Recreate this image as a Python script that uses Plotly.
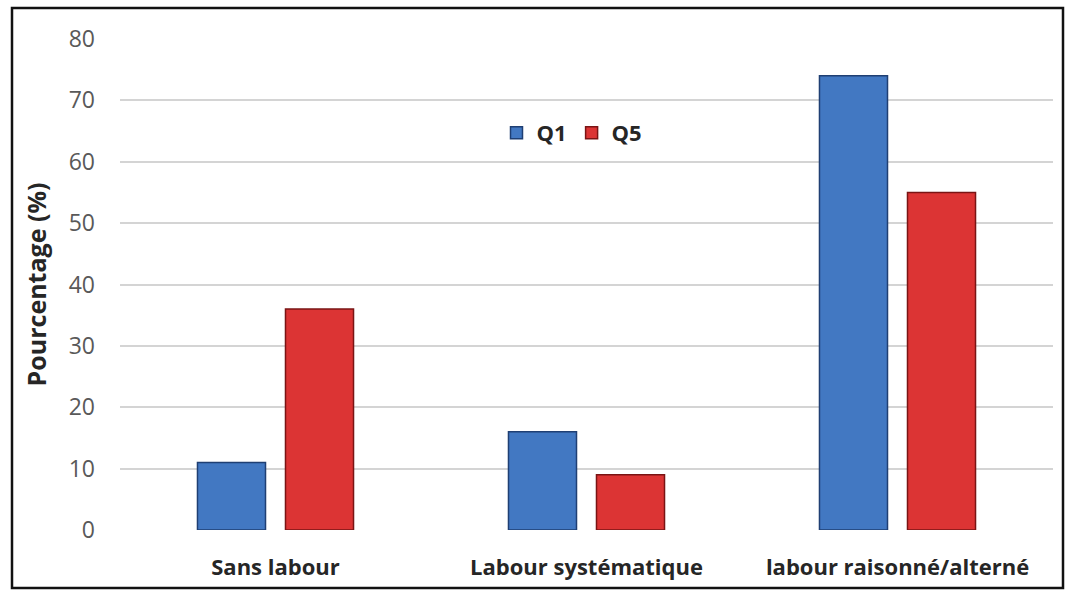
import plotly.graph_objects as go

categories = ["Sans labour", "Labour systématique", "labour raisonné/alterné"]
q1_values = [11, 16, 74]
q5_values = [36, 9, 55]
y_ticks = [0, 10, 20, 30, 40, 50, 60, 70, 80]

W, H = 1067, 597
ML, MR, MT, MB = 120, 14, 39, 67
plot_w = W - ML - MR
plot_h = H - MT - MB

def px_to_paper_x(px):
    return (px - ML) / plot_w

def px_to_paper_y(py):
    return (H - MB - py) / plot_h

fig = go.Figure()
fig.add_trace(go.Bar(
    name="Q1", x=categories, y=q1_values,
    marker=dict(color="#4278c2", line=dict(color="#1f3f73", width=1.5)),
))
fig.add_trace(go.Bar(
    name="Q5", x=categories, y=q5_values,
    marker=dict(color="#dc3434", line=dict(color="#7a1414", width=1.5)),
))

# outer frame around the whole chart
fig.add_shape(
    type="rect", xref="paper", yref="paper",
    x0=px_to_paper_x(12), x1=px_to_paper_x(1063),
    y0=px_to_paper_y(588), y1=px_to_paper_y(8),
    line=dict(color="#111111", width=2.5), fillcolor="rgba(0,0,0,0)",
    layer="below",
)

fig.update_layout(
    width=W, height=H,
    margin=dict(l=ML, r=MR, t=MT, b=MB),
    paper_bgcolor="white", plot_bgcolor="white",
    font=dict(family="Open Sans", color="#404040"),
    barmode="group", bargap=0.434, bargroupgap=0.227,
    showlegend=True,
    legend=dict(
        orientation="h", x=px_to_paper_x(572), y=px_to_paper_y(133),
        xanchor="center", yanchor="middle",
        font=dict(size=22, color="#262626", family="Open Sans", weight="bold"),
        bgcolor="rgba(0,0,0,0)", itemwidth=30, traceorder="normal",
    ),
    xaxis=dict(
        showgrid=False, showline=False, zeroline=False,
        tickfont=dict(size=22, color="#262626", family="Open Sans", weight="bold"),
        ticklabelstandoff=22,
    ),
    yaxis=dict(
        range=[0, 80], tickvals=y_ticks,
        showgrid=True, gridcolor="#d4d4d4", gridwidth=2,
        zeroline=False, showline=False,
        tickfont=dict(size=23, color="#595959", family="Open Sans"),
        ticklabelstandoff=24,
        title=dict(text="<b>Pourcentage (%)</b>", font=dict(size=25, color="#262626", family="Open Sans"), standoff=14),
    ),
)

fig.write_html("out.html")
